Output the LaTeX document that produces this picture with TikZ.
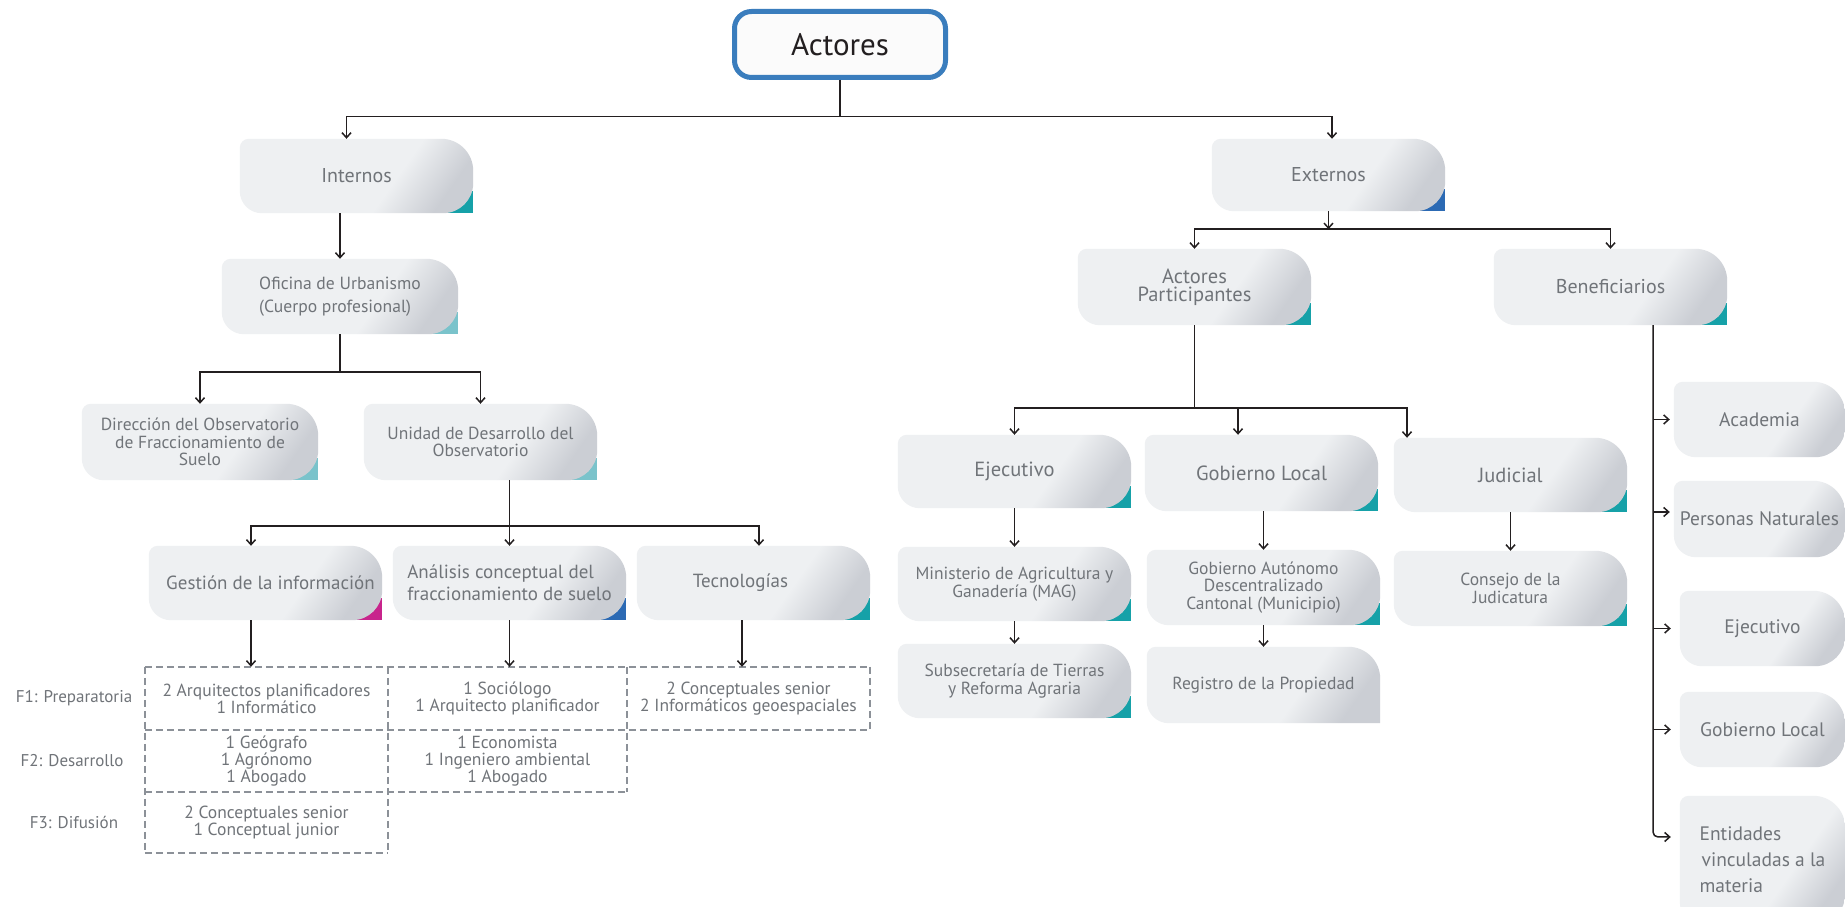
\documentclass[tikz,border=0pt]{standalone}
\usepackage{fontspec}
\setmainfont{PT Sans}
\usetikzlibrary{arrows.meta,backgrounds}

\definecolor{ink}{RGB}{35,31,32}
\definecolor{txt}{RGB}{112,116,121}
\definecolor{cardlight}{RGB}{238,240,242}
\definecolor{carddark}{RGB}{203,206,212}
\definecolor{cteal}{RGB}{22,161,168}
\definecolor{cpale}{RGB}{122,195,203}
\definecolor{cblue}{RGB}{44,106,180}
\definecolor{cmag}{RGB}{200,36,140}
\definecolor{rootblue}{RGB}{58,125,189}
\definecolor{rootfill}{RGB}{251,251,251}
\definecolor{dashgray}{RGB}{140,145,152}

\pgfdeclarehorizontalshading{cardshade}{100bp}{color(0bp)=(cardlight); color(25bp)=(cardlight); color(60bp)=(cardlight); color(75bp)=(carddark); color(100bp)=(carddark)}

% outline of a card: small top-left, large top-right, medium bottom-left radius
\newcommand\cardoutline[2]{([xshift=9pt]#1.north west) -- ([xshift=-32pt]#1.north east)
  arc[start angle=90,end angle=0,radius=32pt] -- ([yshift=#2]#1.south east)
  arc[start angle=0,end angle=-90,radius=#2] -- ([xshift=22pt]#1.south west)
  arc[start angle=270,end angle=180,radius=22pt] -- ([yshift=-9pt]#1.north west)
  arc[start angle=180,end angle=90,radius=9pt] -- cycle}
% card with a coloured lower-right corner
\newcommand\card[2]{%
  \begin{scope}[on background layer]
    \fill[#2] ([xshift=-34pt]#1.south east) rectangle ([yshift=22pt]#1.south east);
    \shade[shading=cardshade,shading angle=-35] \cardoutline{#1}{30pt};
  \end{scope}}
% card without the coloured corner
\newcommand\plaincard[2]{%
  \begin{scope}[on background layer]
    \shade[shading=cardshade,shading angle=-35] \cardoutline{#1}{#2};
  \end{scope}}

\newcommand\fntroot{\fontsize{31}{36}\selectfont}
\newcommand\fnthead{\fontsize{20}{22}\selectfont}
\newcommand\fntmid{\fontsize{20.5}{24}\selectfont}
\newcommand\fntap{\fontsize{20.5}{18}\selectfont}
\newcommand\fntsmall{\fontsize{17.5}{17.5}\selectfont}
\newcommand\fntofi{\fontsize{17.6}{22.5}\selectfont}
\newcommand\fnttask{\fontsize{19}{22}\selectfont}
\newcommand\fntcell{\fontsize{17.5}{17}\selectfont}
\newcommand\fntlab{\fontsize{17}{17}\selectfont}
\newcommand\fntside{\fontsize{19.5}{26}\selectfont}

\begin{document}
\begin{tikzpicture}[x=1pt,y=1pt,
  root/.style={draw=rootblue, line width=5pt, rounded corners=17pt, fill=rootfill,
    minimum width=211pt, minimum height=66pt, inner sep=0pt, text=ink, font=\fntroot},
  cardnode/.style={inner sep=0pt, text=txt, align=center, minimum width=233pt, minimum height=74pt},
  cell/.style={inner sep=0pt, text=txt, align=center, font=\fntcell, minimum width=243pt, minimum height=63pt},
  rowlab/.style={inner sep=0pt, text=txt, font=\fntlab},
  grid/.style={draw=dashgray, line width=2.4pt, dash pattern=on 7pt off 4pt},
  link/.style={draw=ink, line width=1.5pt, -{Straight Barb[length=5pt,width=9pt]}}]

\useasboundingbox (0,0) rectangle (1845,907);
\begin{scope}[on background layer]
  \fill[white] (0,0) rectangle (1845,907);
\end{scope}

% root
\node[root] (actores) at (840,862.5) {Actores};

% first level
\node[cardnode,font=\fnthead] (internos) at (356.5,731) {Internos};
\node[cardnode,font=\fnthead,minimum height=72pt] (externos) at (1328.5,732) {Externos};

% internal branch
\node[cardnode,font=\fntofi,align=left,minimum width=236pt,minimum height=75pt] (oficina) at (340,610.5) {Oficina de Urbanismo\\(Cuerpo profesional)};
\node[cardnode,font=\fntsmall,minimum width=236pt,minimum height=76pt] (direccion) at (200,465) {Dirección del Observatorio\\de Fraccionamiento de\\Suelo};
\node[cardnode,font=\fntsmall,minimum height=76pt] (unidad) at (480.5,465) {Unidad de Desarrollo del\\Observatorio};
\node[cardnode,font=\fnttask] (gestion) at (265.5,324) {\hspace*{10pt}Gestión de la información};
\node[cardnode,font=\fnttask,align=left] (analisis) at (509.5,324) {Análisis conceptual del\\fraccionamiento de suelo};
\node[cardnode,font=\fnttask] (tecno) at (753.5,324) {\hspace*{-26pt}Tecnologías};

% staffing per phase
\node[cell] (c11) at (266.5,208.5) {2 Arquitectos planificadores\\1 Informático};
\node[cell,minimum width=239pt] (c12) at (507.5,208.5) {1 Sociólogo\\1 Arquitecto planificador};
\node[cell] (c13) at (748.5,208.5) {2 Conceptuales senior\\2 Informáticos geoespaciales};
\node[cell,minimum height=62pt] (c21) at (266.5,146) {1 Geógrafo\\1 Agrónomo\\1 Abogado};
\node[cell,minimum width=239pt,minimum height=62pt] (c22) at (507.5,146) {1 Economista\\1 Ingeniero ambiental\\1 Abogado};
\node[cell,minimum height=61pt] (c31) at (266.5,84.5) {2 Conceptuales senior\\1 Conceptual junior};

\node[rowlab] (f1) at (74,208.5) {F1: Preparatoria};
\node[rowlab] (f2) at (72,146) {F2: Desarrollo};
\node[rowlab] (f3) at (74,85) {F3: Difusión};

\draw[grid] (c11.north west) -- (c13.north east);
\draw[grid] (c11.south west) -- (c13.south east);
\draw[grid] (c21.south west) -- (c22.south east);
\draw[grid] (c31.south west) -- (c31.south east);
\draw[grid] (c11.north west) -- (c31.south west);
\draw[grid] (c11.north east) -- (c31.south east);
\draw[grid] (c12.north east) -- (c22.south east);
\draw[grid] (c13.north east) -- (c13.south east);

% external branch
\node[cardnode,font=\fntap,minimum height=76pt] (ap) at (1194.5,620) {Actores\\Participantes};
\node[cardnode,font=\fnthead,minimum height=76pt] (benef) at (1610.5,620) {Beneficiarios};
\node[cardnode,font=\fntmid,minimum height=73pt] (ejec) at (1014.5,435.5) {Ejecutivo};
\node[cardnode,font=\fntmid,minimum height=76pt] (gl) at (1261.5,434) {Gobierno Local};
\node[cardnode,font=\fntmid] (jud) at (1510.5,432) {Judicial};
\node[cardnode,font=\fntsmall] (min) at (1014.5,323) {Ministerio de Agricultura y\\Ganadería (MAG)};
\node[cardnode,font=\fntsmall] (sub) at (1014.5,226) {Subsecretaría de Tierras\\y Reforma Agraria};
\node[cardnode,font=\fntsmall,minimum height=75pt] (gad) at (1263.5,319.5) {Gobierno Autónomo\\Descentralizado\\Cantonal (Municipio)};
\node[cardnode,font=\fntsmall,minimum height=76pt] (reg) at (1263.5,222) {Registro de la Propiedad};
\node[cardnode,font=\fntsmall,minimum height=75pt] (consejo) at (1510.5,318.5) {Consejo de la\\Judicatura};

% beneficiaries column
\node[cardnode,font=\fntside,minimum width=171pt,minimum height=75pt] (academia) at (1759.5,487.5) {Academia};
\node[cardnode,font=\fntside,minimum width=171pt,minimum height=76pt] (personas) at (1759.5,388) {Personas Naturales};
\node[cardnode,font=\fntside,minimum width=165pt,minimum height=75pt] (ejec2) at (1762.5,278.5) {Ejecutivo};
\node[cardnode,font=\fntside,minimum width=165pt,minimum height=75pt] (gl2) at (1762.5,177.5) {Gobierno Local};
\node[cardnode,font=\fntside,minimum width=165pt,minimum height=128pt,align=left] (entidades) at (1762.5,47) {Entidades\\\hspace*{2pt}vinculadas a la\\materia};

% card backgrounds
\card{internos}{cteal}
\card{externos}{cblue}
\card{oficina}{cpale}
\card{direccion}{cpale}
\card{unidad}{cpale}
\card{gestion}{cmag}
\card{analisis}{cblue}
\card{tecno}{cteal}
\card{ap}{cteal}
\card{benef}{cteal}
\card{ejec}{cteal}
\card{gl}{cteal}
\card{jud}{cteal}
\card{min}{cteal}
\card{sub}{cteal}
\card{gad}{cteal}
\plaincard{reg}{0.01pt}
\card{consejo}{cteal}
\plaincard{academia}{30pt}
\plaincard{personas}{30pt}
\plaincard{ejec2}{30pt}
\plaincard{gl2}{30pt}
\plaincard{entidades}{30pt}

% connectors
\draw[link] (actores.south) -- ++(0,-36.5) -| ([xshift=-10pt]internos.north);
\draw[link] (actores.south) -- ++(0,-36.5) -| ([xshift=3.5pt]externos.north);
\draw[link] (internos.south -| oficina.north) -- (oficina.north);
\draw[link] (oficina.south) -- ++(0,-38) -| (direccion.north);
\draw[link] (oficina.south) -- ++(0,-38) -| (unidad.north);
\draw[link] (unidad.south -| analisis.north) -- ++(0,-46) -| ([xshift=-14.5pt]gestion.north);
\draw[link] (unidad.south -| analisis.north) -- (analisis.north);
\draw[link] (unidad.south -| analisis.north) -- ++(0,-46) -| ([xshift=5.5pt]tecno.north);
\draw[link] ([xshift=-14.5pt]gestion.south) -- ([xshift=-14.5pt]gestion.south |- c11.north);
\draw[link] (analisis.south) -- (analisis.south |- c12.north);
\draw[link] ([xshift=-11.5pt]tecno.south) -- ([xshift=-11.5pt]tecno.south |- c13.north);

\coordinate (xj) at ([yshift=-18pt]externos.south);
\draw[link] (externos.south) -- (xj);
\draw[link] (xj) -| (ap.north);
\draw[link] (xj) -| (benef.north);

\draw[link] (ap.south) -- ++(0,-83) -| (ejec.north);
\draw[link] (ap.south) -- ++(0,-83) -| ([xshift=-23.5pt]gl.north);
\draw[link] (ap.south) -- ++(0,-83) -| ([xshift=-103.5pt]jud.north);
\draw[link] (ejec.south) -- (min.north);
\draw[link] (min.south) -- (sub.north);
\draw[link] (gl.south -| gad.north) -- (gad.north);
\draw[link] (gad.south) -- (reg.north);
\draw[link] (jud.south) -- (consejo.north);

\coordinate (bj) at ([xshift=42.5pt]benef.south);
\draw[link, rounded corners=5pt, shorten >=9pt] (bj) |- ([yshift=23pt]entidades.west);
\draw[link, shorten >=4pt] (bj |- academia.west) -- (academia.west);
\draw[link, shorten >=4pt] (bj |- personas.west) ++(0,7) -- ([yshift=7pt]personas.west);
\draw[link, shorten >=9pt] (bj |- ejec2.west) -- (ejec2.west);
\draw[link, shorten >=9pt] (bj |- gl2.west) -- (gl2.west);
\end{tikzpicture}
\end{document}
